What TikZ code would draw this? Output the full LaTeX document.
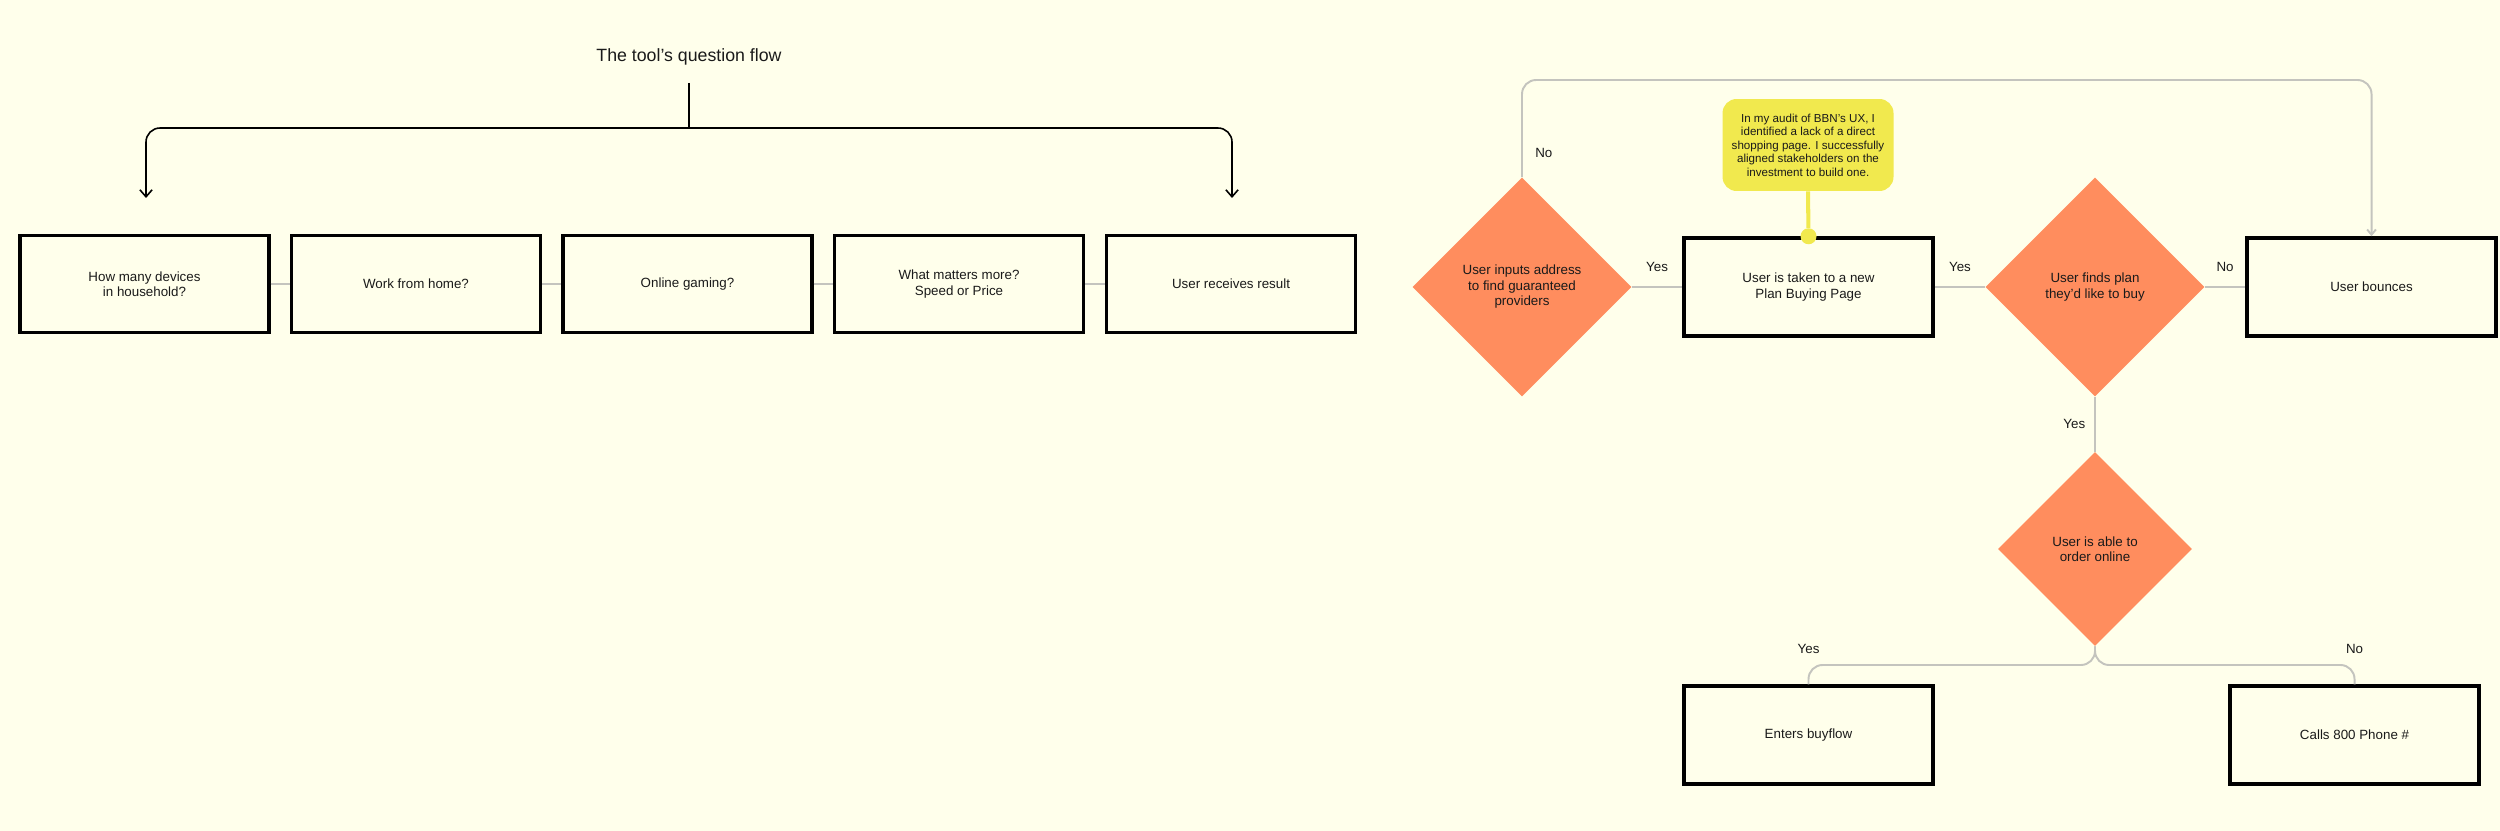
\documentclass[tikz,border=0pt]{standalone}
\usepackage{fontspec}
\setmainfont{Liberation Sans}
\usetikzlibrary{shapes.geometric, arrows.meta, positioning, calc}
\definecolor{paper}{HTML}{FFFFEB}
\definecolor{choice}{HTML}{FF8D5E}
\definecolor{sticky}{HTML}{F1E94E}
\definecolor{wire}{HTML}{C4C4BE}
\definecolor{ink}{HTML}{1A1A1A}

\begin{document}
\begin{tikzpicture}[
    x=0.02cm, y=-0.02cm,
    qbox/.style={draw=black, line width=2pt, fill=paper, minimum width=4.98cm, minimum height=1.94cm, inner sep=0pt, font=\fontsize{7.6}{8.8}\selectfont, align=center, text=ink},
    decision/.style={diamond, aspect=1, fill=choice, inner sep=0pt, minimum width=4.38cm, minimum height=4.38cm, font=\fontsize{7.6}{8.8}\selectfont, align=center, text=ink},
    memo/.style={rounded corners=8pt, fill=sticky, minimum width=3.42cm, minimum height=1.84cm, inner sep=0pt, font=\fontsize{6.6}{7.7}\selectfont, align=center, text=ink},
    link/.style={draw=wire, line width=1.1pt},
    loop/.style={draw=wire, line width=1.1pt, rounded corners=8pt, -{Straight Barb[length=3pt, width=5pt]}},
    flow/.style={draw=black, line width=0.9pt, rounded corners=8pt, -{Straight Barb[length=4pt, width=7pt]}},
    lbl/.style={font=\fontsize{7.6}{8.8}\selectfont, text=ink, inner sep=2pt},
]

% canvas
\fill[paper] (0,0) rectangle (2500,831);
\useasboundingbox (0,0) rectangle (2500,831);

% question flow of the tool
\node[font=\fontsize{10.1}{12}\selectfont, text=ink] (title) at (689,57) {The tool’s question flow};

\node[qbox] (q1) at (144.5,284) {How many devices\\in household?};
\node[qbox] (q2) at (416,284) {Work from home?};
\node[qbox] (q3) at (687.5,284) {Online gaming?};
\node[qbox] (q4) at (959,284) {What matters more?\\Speed or Price};
\node[qbox] (q5) at (1231,284) {User receives result};

\draw[link] (q1.east) -- (q2.west);
\draw[link] (q2.east) -- (q3.west);
\draw[link] (q3.east) -- (q4.west);
\draw[link] (q4.east) -- (q5.west);

\coordinate (stem) at (689,83);
\coordinate (split) at (689,128);
\coordinate (firstq) at (146,198);
\coordinate (lastq) at (1232,198);
\draw[black, line width=0.9pt] (stem) -- (split);
\draw[flow] (split) -| (firstq);
\draw[flow] (split) -| (lastq);

% shopping flow
\node[decision] (addr) at (1522,287) {User inputs address\\to find guaranteed\\providers};
\node[qbox, minimum height=1.96cm] (plan) at (1808.5,287) {User is taken to a new\\Plan Buying Page};
\node[decision] (finds) at (2095,287) {User finds plan\\they’d like to buy};
\node[qbox, minimum height=1.96cm] (bounce) at (2371.5,287) {User bounces};
\node[decision, minimum width=3.88cm, minimum height=3.88cm] (order) at (2095,549) {User is able to\\order online};
\node[qbox, minimum height=1.96cm] (buy) at (1808.5,735) {Enters buyflow};
\node[qbox, minimum height=1.96cm] (call) at (2354.5,735) {Calls 800 Phone \#};

\node[memo] (note) at (1808,145) {In my audit of BBN’s UX, I\\identified a lack of a direct\\shopping page. I successfully\\aligned stakeholders on the\\investment to build one.};
\node[circle, fill=sticky, minimum size=0.32cm, inner sep=0pt] (pin) at (plan.north) {};
\draw[sticky, line width=2.3pt] (note.south) -- (pin);

\draw[link] (addr.east) -- node[lbl, above=6pt] {Yes} (plan.west);
\draw[link] (plan.east) -- node[lbl, above=6pt] {Yes} (finds.west);
\draw[link] (finds.east) -- node[lbl, above=6pt] {No} (bounce.west);
\draw[link] (finds.south) -- node[lbl, left=3pt] {Yes} (order.north);

\coordinate (top) at (1522,80);
\draw[loop] (addr.north) -- node[lbl, pos=0.25, right=5pt] {No} (top) -| (bounce.north);

\coordinate (fork) at (2095,665);
\draw[link, rounded corners=8pt] (order.south) -- (fork) -| node[lbl, pos=0.5, above=4pt] {Yes} (buy.north);
\draw[link, rounded corners=8pt] (order.south) -- (fork) -| node[lbl, pos=0.5, above=4pt] {No} (call.north);

\end{tikzpicture}
\end{document}
